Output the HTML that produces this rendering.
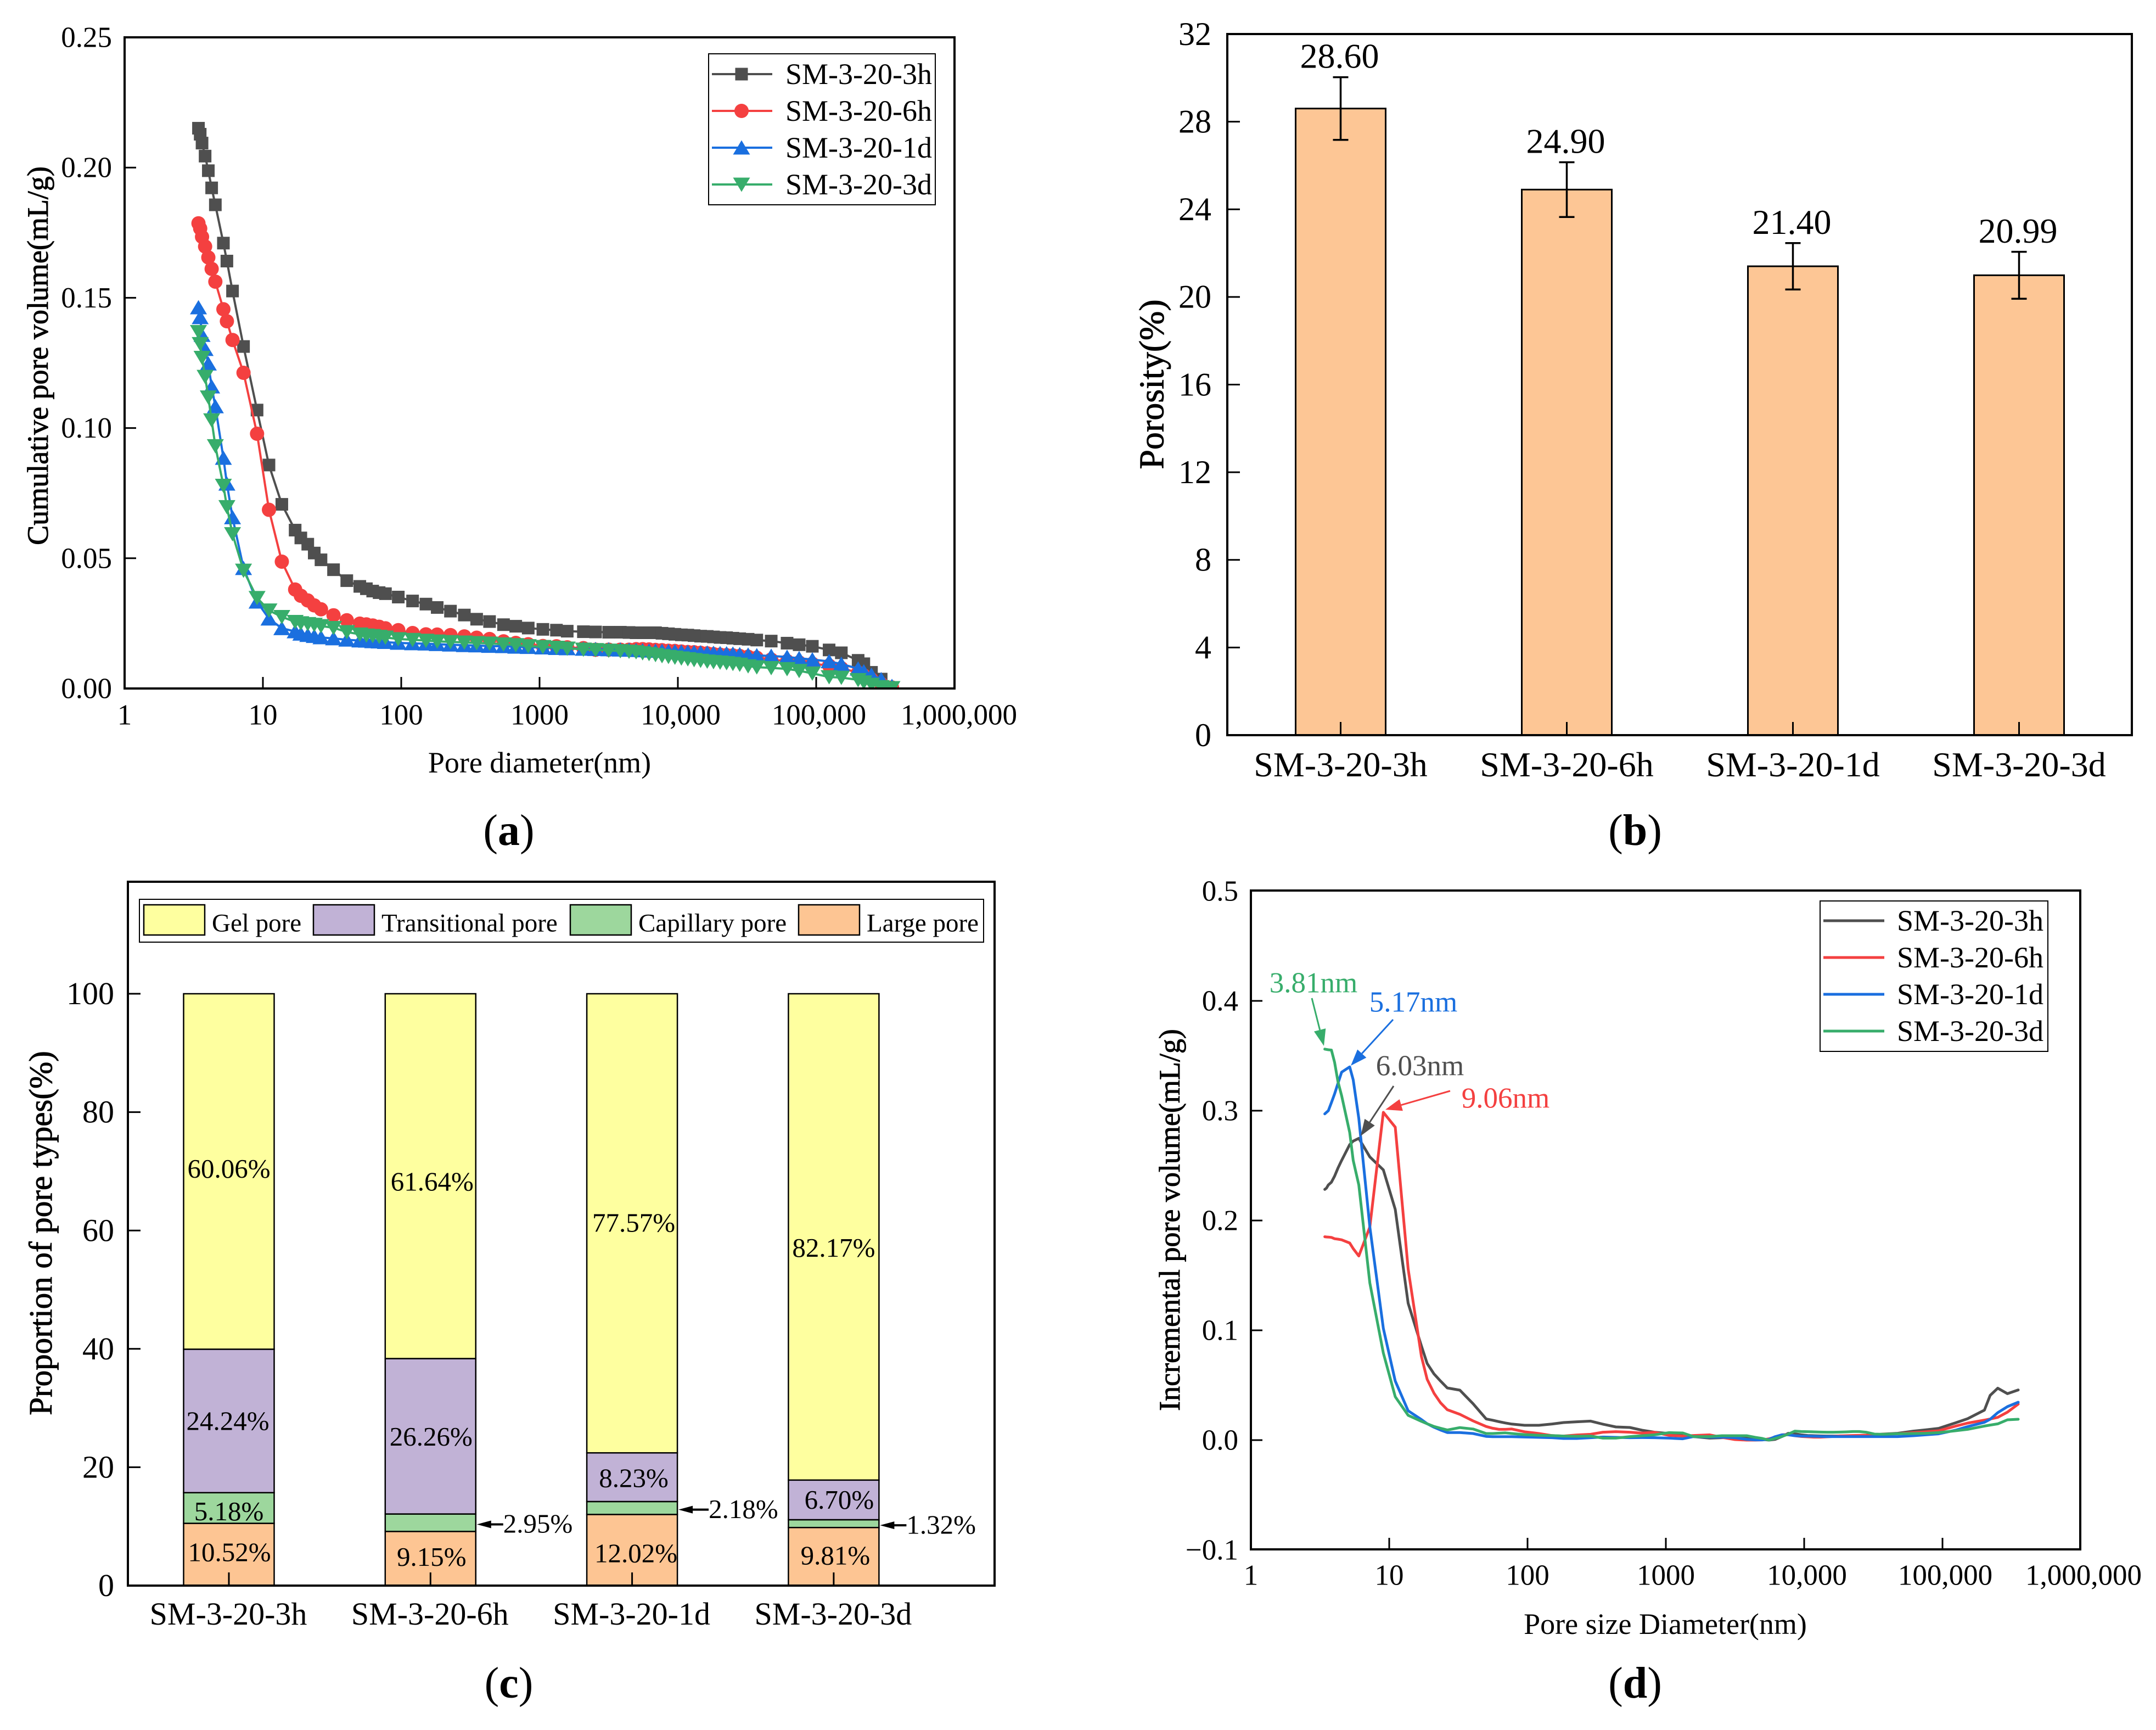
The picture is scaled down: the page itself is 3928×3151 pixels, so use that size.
<!DOCTYPE html>
<html lang="en">
<head>
<meta charset="utf-8">
<title>Pore structure of SM-3-20 samples</title>
<style>
html,body{margin:0;padding:0;background:#fff;width:3928px;height:3151px;overflow:hidden}
svg{display:block}
text{font-family:"Liberation Serif","Times New Roman",serif;fill:#000}
.axis-title{stroke:#000;stroke-width:0.9px}
</style>
</head>
<body>
<svg id="figure" xmlns="http://www.w3.org/2000/svg" width="3928" height="3151" viewBox="0 0 3928 3151">
<rect x="0" y="0" width="3928" height="3151" fill="#fff"/>
<defs>
<clipPath id="clip-a"><rect x="227" y="68" width="1512" height="1186"/></clipPath>
</defs>

<g id="panel-a">
<g id="a-series" clip-path="url(#clip-a)"></g>
<rect x="227" y="68" width="1512" height="1186" fill="none" stroke="#000" stroke-width="4"/>
<g id="a-ticks"></g>
<text class="axis-title" x="69" y="648" font-size="54" text-anchor="middle" dominant-baseline="central" transform="rotate(-90 69 648)">Cumulative pore volume(mL/g)</text>
<text x="983" y="1407" font-size="54" text-anchor="middle">Pore diameter(nm)</text>
<rect x="1291" y="98" width="413" height="275" fill="#fff" stroke="#000" stroke-width="2"/>
<g id="a-legend"></g>
<text x="927" y="1539" font-size="80" text-anchor="middle">(<tspan font-weight="bold">a</tspan>)</text>
</g>

<g id="panel-b">
<g id="b-bars"></g>
<rect x="2236" y="62" width="1648" height="1277" fill="none" stroke="#000" stroke-width="4"/>
<g id="b-ticks"></g>
<text class="axis-title" x="2098" y="700" font-size="64" text-anchor="middle" dominant-baseline="central" transform="rotate(-90 2098 700)">Porosity(%)</text>
<text x="2979" y="1539" font-size="80" text-anchor="middle">(<tspan font-weight="bold">b</tspan>)</text>
</g>

<g id="panel-c">
<g id="c-bars"></g>
<rect x="233" y="1606" width="1579" height="1282" fill="none" stroke="#000" stroke-width="4"/>
<g id="c-ticks"></g>
<text class="axis-title" x="74" y="2246" font-size="59" text-anchor="middle" dominant-baseline="central" transform="rotate(-90 74 2246)">Proportion of pore types(%)</text>
<rect x="254" y="1638" width="1538" height="78" fill="#fff" stroke="#000" stroke-width="2"/>
<g id="c-legend"></g>
<text x="927" y="3092" font-size="80" text-anchor="middle">(<tspan font-weight="bold">c</tspan>)</text>
</g>

<g id="panel-d">
<g id="d-series"></g>
<rect x="2279" y="1622" width="1511" height="1200" fill="none" stroke="#000" stroke-width="4"/>
<g id="d-ticks"></g>
<text class="axis-title" x="2131" y="2222" font-size="54" text-anchor="middle" dominant-baseline="central" transform="rotate(-90 2131 2222)">Incremental pore volume(mL/g)</text>
<text x="3034" y="2976" font-size="54" text-anchor="middle">Pore size Diameter(nm)</text>
<rect x="3316" y="1641" width="415" height="274" fill="#fff" stroke="#000" stroke-width="2"/>
<g id="d-legend"></g>
<g id="d-annotations"></g>
<text x="2979" y="3092" font-size="80" text-anchor="middle">(<tspan font-weight="bold">d</tspan>)</text>
</g>
</svg>

<script>
// ---------- shared data ----------
const sampleNames = ["SM-3-20-3h","SM-3-20-6h","SM-3-20-1d","SM-3-20-3d"];
const seriesColors = ["#4f4f4f","#f44040","#1a6fdf","#37ad6b"];
const poreDiameters = [
3.42,3.52,3.63,3.82,4.03,4.26,4.53,5.18,5.49,6.03,
7.24,9.07,11.06,13.7,17.1,18.8,21.1,23.5,26.3,32.4,
40.4,50.2,56,62.2,69.2,76.9,95.2,120.8,150.9,182,
227,286,351,435,549,673,828,1057,1325,1585,
2075,2540,3162,3837,4436,4990,5560,6190,6890,7680,
8550,9520,10600,11800,13100,14600,16300,18100,20200,22500,
25000,28000,32200,37200,47300,61600,75300,93800,124000,152000,
201000,221000,251000,295000,353000];

// ---------- panel a: cumulative pore volume ----------
const cumulative3h = [
.2151,.2128,.2094,.2044,.1988,.1922,.1857,.171,.1641,.1526,
.1313,.1069,.0858,.0707,.0608,.0578,.0554,.052,.0494,.0456,
.0414,.0392,.0383,.0374,.0368,.0364,.0351,.0336,.0324,.0311,
.0297,.0282,.0266,.0257,.0245,.0239,.0232,.0227,.0224,.022,
.0218,.0217,.0216,.0216,.0215,.0214,.0214,.0214,.0214,.0212,
.021,.0208,.0206,.0205,.0203,.0201,.02,.0198,.0196,.0195,
.0193,.0191,.0189,.0186,.0182,.0174,.0168,.0162,.0148,.0137,
.0108,.0095,.0062,.0036,.0004];
const cumulative6h = [
.1786,.1766,.1734,.1697,.1655,.1611,.1562,.1456,.141,.1338,
.1212,.0978,.0686,.0487,.038,.0356,.0338,.0319,.0304,.0281,
.0262,.0249,.0246,.0242,.0237,.0231,.0224,.0213,.0208,.0207,
.0205,.02,.0195,.019,.0181,.0175,.017,.0163,.0162,.0158,
.0155,.0149,.0149,.0149,.0149,.0151,.0151,.015,.0148,.0147,
.0145,.0144,.0142,.014,.0139,.0137,.0135,.0132,.013,.0128,
.0127,.0125,.0122,.0118,.0111,.0105,.01,.0095,.0088,.0078,
.0061,.005,.0035,.0018,.0004];
const cumulative1d = [
.1463,.1425,.1357,.1303,.1247,.1159,.1083,.0885,.0786,.0657,
.0462,.0333,.0268,.0231,.0219,.021,.0205,.0201,.0196,.0192,
.0187,.0184,.0183,.0181,.018,.0178,.0175,.0173,.0172,.017,
.0168,.0166,.0165,.0163,.0162,.016,.0159,.0157,.0155,.0154,
.0152,.0151,.015,.0149,.0148,.0147,.0146,.0145,.0144,.0144,
.0143,.0142,.0141,.014,.0139,.0138,.0137,.0136,.0135,.0134,
.0133,.0131,.0129,.0127,.0125,.0121,.0116,.0111,.0104,.0094,
.0076,.0065,.0052,.0035,.0009];
const cumulative3d = [
.1369,.1323,.127,.1197,.1118,.103,.0931,.0779,.0697,.0593,
.0453,.0348,.03,.0275,.0256,.0251,.0248,.0245,.024,.0233,
.0217,.0208,.0204,.0202,.0199,.0196,.019,.0187,.0184,.0181,
.0179,.0177,.0175,.0173,.017,.0167,.0163,.016,.0157,.0154,
.015,.0148,.0146,.0144,.0142,.014,.0136,.0133,.0129,.0125,
.0122,.0119,.0116,.0113,.011,.0107,.0104,.0102,.01,.0098,
.0095,.0092,.0086,.0082,.0079,.0075,.0068,.0058,.0044,.0042,
.0033,.0024,.0015,.0006,.0002];
const cumulativeTicks = [0,0.05,0.10,0.15,0.20,0.25];
const logTickValues = [1,10,100,1000,10000,100000,1000000];
const logTickLabels = ["1","10","100","1000","10,000","100,000","1,000,000"];

// ---------- panel b: porosity ----------
const porosityValues = [28.60,24.90,21.40,20.99];
const porosityErrors = [1.43,1.25,1.06,1.07];
const porosityTicks = [0,4,8,12,16,20,24,28,32];

// ---------- panel c: pore types ----------
const largePore = [10.52,9.15,12.02,9.81];
const capillaryPore = [5.18,2.95,2.18,1.32];
const transitionalPore = [24.24,26.26,8.23,6.70];
const gelPore = [60.06,61.64,77.57,82.17];
const proportionTicks = [0,20,40,60,80,100];
const poreTypeNames = ["Large pore","Capillary pore","Transitional pore","Gel pore"];
const poreTypeColors = ["#fdc593","#9dd79d","#c1b2d6","#feff9f"];

// ---------- panel d: incremental pore volume ----------
const incremental3h = [
.2283,.2295,.2324,.2349,.2404,.2477,.2547,.2691,.2723,.2748,
.2579,.2461,.2101,.1246,.0857,.0698,.0602,.0538,.0475,.0455,
.0331,.0193,.0181,.0168,.0156,.0146,.0135,.0135,.0147,.016,
.0167,.0173,.0145,.012,.0115,.009,.0072,.006,.004,.0032,
.0018,.0022,.0023,.0027,.0018,.0007,.0000,.0007,.0032,.0062,
.0057,.0048,.0042,.004,.0038,.0037,.0037,.0038,.0037,.0036,
.0035,.0035,.0048,.0055,.0062,.0082,.0093,.0107,.0157,.0195,
.0273,.0407,.0473,.0423,.0457];
const incremental6h = [
.1852,.185,.1849,.1846,.1834,.183,.1824,.1795,.1744,.1677,
.1941,.2985,.285,.1558,.0762,.0554,.0426,.034,.0277,.0235,
.0175,.0124,.0108,.0098,.0098,.0101,.0076,.006,.0041,.0037,
.0047,.0053,.0072,.0077,.0072,.0064,.0071,.0043,.0037,.0042,
.0048,.0025,.0005,.0000,.0000,.0002,.0012,.0028,.0048,.0052,
.004,.0033,.003,.0027,.0027,.003,.0033,.0038,.004,.0042,
.0043,.0045,.005,.0053,.0058,.0068,.0075,.0085,.0127,.0155,
.0182,.0192,.0207,.0255,.0328];
const incremental1d = [
.2971,.2985,.3,.3074,.3153,.3249,.3351,.3399,.3281,.293,
.1941,.1017,.0538,.0267,.0187,.0149,.0117,.0092,.0069,.0069,
.006,.0034,.0031,.0031,.0031,.0031,.0028,.0025,.0022,.0015,
.0015,.0022,.0028,.0025,.0022,.0023,.0022,.0018,.0012,.0032,
.0027,.0027,.0022,.0007,.0002,.0002,.0007,.0032,.0048,.0048,
.004,.0037,.0036,.0035,.0033,.0032,.0032,.0032,.0032,.0032,
.0032,.0032,.0032,.0032,.0032,.004,.0048,.0057,.009,.0123,
.0162,.019,.025,.0305,.0345];
const incremental3d = [
.3561,.3558,.3555,.3552,.344,.3265,.3137,.2802,.2547,.2324,
.1431,.0793,.0395,.0226,.0171,.0149,.0124,.0108,.0092,.0114,
.0101,.006,.006,.0063,.0066,.006,.005,.0044,.0041,.0037,
.0035,.0037,.0018,.0018,.0032,.004,.0048,.0068,.0065,.0032,
.0032,.004,.004,.004,.0025,.0015,.0000,.0015,.0032,.0055,
.0082,.0078,.0077,.0075,.0073,.0072,.0072,.0073,.0075,.0078,
.0078,.0072,.0055,.0053,.0058,.006,.0062,.0068,.0085,.0098,
.0128,.0137,.0148,.0185,.019];
const incrementalTicks = [-0.1,0,0.1,0.2,0.3,0.4,0.5];
const incrementalTickLabels = ["\u22120.1","0.0","0.1","0.2","0.3","0.4","0.5"];
const peakLabels = ["3.81nm","5.17nm","6.03nm","9.06nm"];

// ---------- axis functions ----------
const xA = d => 227 + 252 * Math.log10(d);
const yA = v => 1254 - v / 0.25 * 1186;
const xB = i => 2442.5 + 412 * i;
const yB = v => 1339 - v / 32 * 1277;
const xC = i => 417 + 367.3 * i;
const yC = v => 2888 - v * 10.78;
const xD = d => 2279 + 252 * Math.log10(d);
const yD = v => 2623 - v * 2000;

const NS = "http://www.w3.org/2000/svg";
function make(tag, attrs, parent) {
  const e = document.createElementNS(NS, tag);
  for (const k in attrs) e.setAttribute(k, attrs[k]);
  parent.appendChild(e);
  return e;
}
function writeText(parent, str, x, cy, size, anchor, fill) {
  const t = make("text", {x: x, y: cy + size * 0.33, "font-size": size, "text-anchor": anchor || "middle"}, parent);
  if (fill) t.setAttribute("style", "fill:" + fill);
  t.textContent = str;
  return t;
}
function tickLine(parent, x1, y1, x2, y2, name) {
  const l = make("line", {x1: x1, y1: y1, x2: x2, y2: y2, stroke: "#000", "stroke-width": 3}, parent);
  
  
  return l;
}
function polylineFor(parent, xs, ys, xScale, yScale, color, width) {
  const pts = xs.map((d, i) => xScale(d).toFixed(1) + "," + yScale(ys[i]).toFixed(1)).join(" ");
  return make("polyline", {points: pts, fill: "none", stroke: color, "stroke-width": width, "stroke-linejoin": "round", "stroke-linecap": "round"}, parent);
}
function drawMarker(parent, kind, x, y, color) {
  if (kind === 0) return make("rect", {x: x - 11.5, y: y - 11.5, width: 23, height: 23, fill: color}, parent);
  if (kind === 1) return make("circle", {cx: x, cy: y, r: 13, fill: color}, parent);
  if (kind === 2) return make("polygon", {points: `${x - 15.5},${y + 12.5} ${x + 15.5},${y + 12.5} ${x},${y - 13.5}`, fill: color}, parent);
  return make("polygon", {points: `${x - 15.5},${y - 12.5} ${x + 15.5},${y - 12.5} ${x},${y + 13.5}`, fill: color}, parent);
}

// ---------- draw panel a ----------
const aSeries = document.getElementById("a-series");
const cumulativeAll = [cumulative3h, cumulative6h, cumulative1d, cumulative3d];
cumulativeAll.forEach((vals, s) => {
  const g = make("g", {}, aSeries);
  
  
  const line = polylineFor(g, poreDiameters, vals, xA, yA, seriesColors[s], 4);
  
  
  vals.forEach((v, i) => {
    const m = drawMarker(g, s, xA(poreDiameters[i]), yA(v), seriesColors[s]);
    
    
  });
});
const aTicks = document.getElementById("a-ticks");
cumulativeTicks.forEach(v => {
  tickLine(aTicks, 227, yA(v), 248, yA(v), "y-tick");
  const t = writeText(aTicks, v.toFixed(2), 204, yA(v), 53, "end");
  
  
});
logTickValues.forEach((d, i) => {
  if (i > 0 && i < 6) tickLine(aTicks, xA(d), 1254, xA(d), 1233, "x-tick");
  const shift = logTickLabels[i].length > 7 ? 8 : (logTickLabels[i].includes(",") ? 5 : 0);
  const t = writeText(aTicks, logTickLabels[i], xA(d) + shift, 1302, 53, "middle");
  
  
});
const aLegend = document.getElementById("a-legend");
sampleNames.forEach((n, s) => {
  const y = 135 + s * 67;
  const g = make("g", {}, aLegend);
  
  
  make("line", {x1: 1297, x2: 1407, y1: y, y2: y, stroke: seriesColors[s], "stroke-width": 4}, g);
  drawMarker(g, s, 1351, y, seriesColors[s]);
  writeText(g, n, 1431, y, 54, "start");
});

// ---------- draw panel b ----------
const bBars = document.getElementById("b-bars");
porosityValues.forEach((v, i) => {
  const bar = make("rect", {x: xB(i) - 82, y: yB(v), width: 164, height: yB(0) - yB(v), fill: "#fdc695", stroke: "#000", "stroke-width": 3}, bBars);
  
  
  const top = yB(v + porosityErrors[i]), bot = yB(v - porosityErrors[i]);
  const err = make("path", {d: `M${xB(i)} ${top}V${bot}M${xB(i) - 14} ${top}H${xB(i) + 14}M${xB(i) - 14} ${bot}H${xB(i) + 14}`, fill: "none", stroke: "#000", "stroke-width": 3.5}, bBars);
  
  
  const t = writeText(bBars, v.toFixed(2), xB(i) - 2, top - 38, 64, "middle");
  
  
});
const bTicks = document.getElementById("b-ticks");
porosityTicks.forEach(v => {
  tickLine(bTicks, 2236, yB(v), 2259, yB(v), "y-tick");
  const t = writeText(bTicks, String(v), 2207, yB(v), 60, "end");
  
  
});
sampleNames.forEach((n, i) => {
  tickLine(bTicks, xB(i), 1339, xB(i), 1315, "x-tick");
  const t = writeText(bTicks, n, xB(i), 1393, 64, "middle");
  
  
});

// ---------- draw panel c ----------
const cBars = document.getElementById("c-bars");
const poreStacks = [largePore, capillaryPore, transitionalPore, gelPore];
const labelNudgeX = [[1,0,-2,0],[2,0,1,3],[7,0,3,3],[3,0,10,0]];
const labelNudgeY = [[-4,6,0,-5],[-3,0,1,10],[6,0,2,-1],[-2,0,0,20]];
const calloutGap = [0,50,57,50];
sampleNames.forEach((n, i) => {
  let base = 0;
  poreStacks.forEach((arr, k) => {
    const v = arr[i];
    const seg = make("rect", {x: xC(i) - 82.5, y: yC(base + v), width: 165, height: yC(base) - yC(base + v), fill: poreTypeColors[k], stroke: "#000", "stroke-width": 2.5}, cBars);
    
    
    base += v;
  });
});
sampleNames.forEach((n, i) => {
  let base = 0;
  poreStacks.forEach((arr, k) => {
    const v = arr[i];
    const mid = yC(base + v / 2);
    const str = v.toFixed(2) + "%";
    if (k === 1 && i > 0) {
      const right = xC(i) + 82.5;
      const ay = mid + 3;
      const arrow = make("path", {d: `M${right + 2} ${ay}l26 -7v5h${calloutGap[i] - 28}v4h-${calloutGap[i] - 28}v5z`, fill: "#000"}, cBars);
      
      
      const t = writeText(cBars, str, right + calloutGap[i], ay - 1, 49, "start");
      
      
    } else {
      const t = writeText(cBars, str, xC(i) + labelNudgeX[i][k], mid + labelNudgeY[i][k], 49, "middle");
      
      
    }
    base += v;
  });
});
const cTicks = document.getElementById("c-ticks");
proportionTicks.forEach(v => {
  tickLine(cTicks, 233, yC(v), 256, yC(v), "y-tick");
  const t = writeText(cTicks, String(v), 208, yC(v), 58, "end");
  
  
});
sampleNames.forEach((n, i) => {
  tickLine(cTicks, xC(i), 2888, xC(i), 2864, "x-tick");
  const t = writeText(cTicks, n, xC(i) - 1, 2940, 58, "middle");
  
  
});
const cLegend = document.getElementById("c-legend");
const legendOrder = [3,2,1,0];
const legendLayout = [262,571,1039,1455];
legendOrder.forEach((k, j) => {
  const g = make("g", {}, cLegend);
  
  
  make("rect", {x: legendLayout[j], y: 1648, width: 111, height: 55, fill: poreTypeColors[k], stroke: "#000", "stroke-width": 2.5}, g);
  writeText(g, poreTypeNames[k], legendLayout[j] + 124, 1681, 47, "start");
});

// ---------- draw panel d ----------
const dSeries = document.getElementById("d-series");
const incrementalAll = [incremental3h, incremental6h, incremental1d, incremental3d];
incrementalAll.forEach((vals, s) => {
  const line = polylineFor(dSeries, poreDiameters, vals, xD, yD, seriesColors[s], 5);
  
  
});
const dTicks = document.getElementById("d-ticks");
incrementalTicks.forEach((v, i) => {
  if (i > 0 && i < 6) tickLine(dTicks, 2279, yD(v), 2300, yD(v), "y-tick");
  const t = writeText(dTicks, incrementalTickLabels[i], 2256, yD(v), 53, "end");
  
  
});
logTickValues.forEach((d, i) => {
  if (i > 0 && i < 6) tickLine(dTicks, xD(d), 2822, xD(d), 2801, "x-tick");
  const shift = logTickLabels[i].length > 7 ? 5 : (logTickLabels[i].includes(",") ? 5 : 0);
  const t = writeText(dTicks, logTickLabels[i], xD(d) + shift, 2869, 53, "middle");
  
  
});
const dLegend = document.getElementById("d-legend");
sampleNames.forEach((n, s) => {
  const y = 1677 + s * 67;
  const g = make("g", {}, dLegend);
  
  
  make("line", {x1: 3322, x2: 3433, y1: y, y2: y, stroke: seriesColors[s], "stroke-width": 5}, g);
  writeText(g, n, 3456, y, 54, "start");
});
const dAnn = document.getElementById("d-annotations");
const annColors = [seriesColors[3], seriesColors[2], seriesColors[0], seriesColors[1]];
const annTail = [[2390,1818],[2538,1857],[2539,1978],[2642,1987]];
const annTip = [[2412,1905],[2461,1941],[2479,2069],[2524,2021]];
const annText = [[2393,1790],[2575,1825],[2587,1941],[2743,2000]];
peakLabels.forEach((lab, i) => {
  const c = annColors[i];
  const [tx, ty] = annTail[i];
  const [hx, hy] = annTip[i];
  const len = Math.hypot(hx - tx, hy - ty);
  const ux = (hx - tx) / len, uy = (hy - ty) / len;
  const bx = hx - ux * 30, by = hy - uy * 30;
  const l = make("line", {x1: tx, y1: ty, x2: bx, y2: by, stroke: c, "stroke-width": 3}, dAnn);
  
  
  const h = make("polygon", {points: `${hx},${hy} ${bx - uy * 11},${by + ux * 11} ${bx + uy * 11},${by - ux * 11}`, fill: c}, dAnn);
  
  
  const t = writeText(dAnn, lab, annText[i][0], annText[i][1], 53, "middle", c);
  
  
});
</script>
</body>
</html>
